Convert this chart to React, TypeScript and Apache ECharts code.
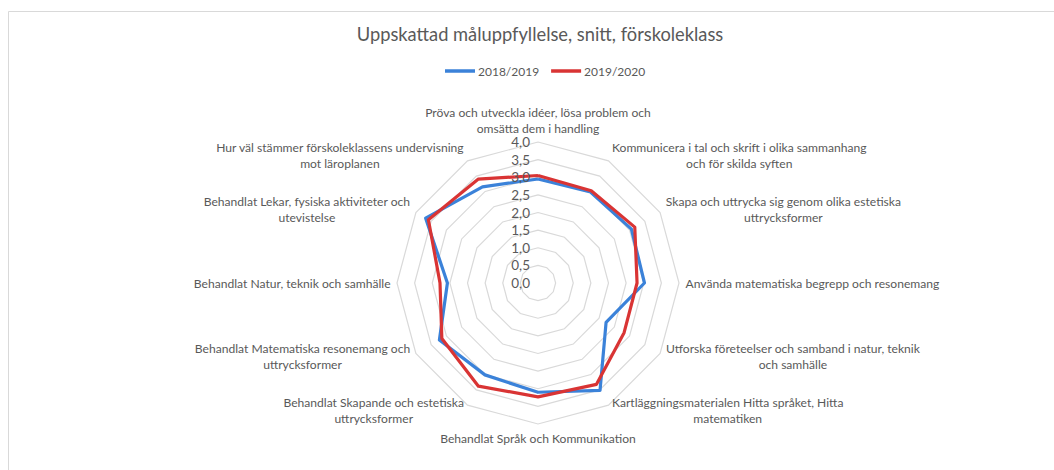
import React, { useEffect, useRef } from "react";
import * as echarts from "echarts";

const TITLE = "Uppskattad måluppfyllelse, snitt, förskoleklass";
const SERIES_NAMES = ["2018/2019", "2019/2020"];
const SERIES_COLORS = ["#3B82D9", "#D93434"];

// indicators in clockwise order starting at the top
const CATEGORIES = [
  "Pröva och utveckla idéer, lösa problem och\nomsätta dem i handling",
  "Kommunicera i tal och skrift i olika sammanhang\noch för skilda syften",
  "Skapa och uttrycka sig genom olika estetiska\nuttrycksformer",
  "Använda matematiska begrepp och resonemang",
  "Utforska företeelser och samband i natur, teknik\noch samhälle",
  "Kartläggningsmaterialen Hitta språket, Hitta\nmatematiken",
  "Behandlat Språk och Kommunikation",
  "Behandlat Skapande och estetiska\nuttrycksformer",
  "Behandlat Matematiska resonemang och\nuttrycksformer",
  "Behandlat Natur, teknik och samhälle",
  "Behandlat Lekar, fysiska aktiviteter och\nutevistelse",
  "Hur väl stämmer förskoleklassens undervisning\nmot läroplanen",
];

const VALUES_2018 = [2.95, 2.98, 3.06, 3.02, 2.23, 3.52, 3.1, 3.01, 3.23, 2.57, 3.68, 3.15];
const VALUES_2019 = [3.05, 3.02, 3.17, 2.81, 2.82, 3.32, 3.23, 3.38, 3.15, 2.78, 3.59, 3.4];

const AXIS_MIN = 0;
const AXIS_MAX = 4;
const AXIS_STEP = 0.5;

const FONT = "Lato";
const LABEL_SIZE = 12.1;
const TEXT_COLOR = "#595959";

// ECharts radar runs counter-clockwise; reorder so the picture runs clockwise
const order = CATEGORIES.map((_, i) => (i === 0 ? 0 : CATEGORIES.length - i));
const reorder = <T,>(arr: T[]) => order.map((i) => arr[i]);

function measure(text: string, size: number): number {
  const c = document.createElement("canvas").getContext("2d");
  if (!c) return text.length * size * 0.5;
  c.font = `${size}px ${FONT}`;
  return Math.max(...text.split("\n").map((l) => c.measureText(l).width)) + 1;
}

export default function App() {
  const ref = useRef<HTMLDivElement>(null);
  useEffect(() => {
    if (!ref.current) return;
    const chart = echarts.init(ref.current, undefined, { renderer: "svg" });
    const rich: Record<string, any> = {};
    CATEGORIES.forEach((c, i) => {
      rich["l" + i] = {
        width: measure(c, LABEL_SIZE),
        align: "center",
        fontSize: LABEL_SIZE,
        fontFamily: FONT,
        color: TEXT_COLOR,
        lineHeight: 16,
      };
    });
    const center = ["538", "283"];
    const radius = 141;
    chart.setOption({
      animation: false,
      backgroundColor: "#ffffff",
      title: {
        text: TITLE,
        left: 535,
        textAlign: "center",
        top: 20,
        textStyle: { fontFamily: FONT, fontSize: 18.3, fontWeight: "normal", color: TEXT_COLOR },
      },
      legend: {
        top: 60,
        left: 440,
        itemWidth: 30,
        itemHeight: 3.5,
        itemGap: 12,
        icon: "rect",
        data: SERIES_NAMES,
        textStyle: { fontFamily: FONT, fontSize: 12, color: TEXT_COLOR, padding: [0, 0, 0, -2] },
      },
      graphic: [
        {
          type: "rect",
          shape: { x: 8.5, y: 11.5, width: 1200, height: 600 },
          style: { fill: "none", stroke: "#d9d9d9", lineWidth: 1 },
          silent: true,
        },
      ],
      radar: {
        center,
        radius,
        startAngle: 90,
        splitNumber: (AXIS_MAX - AXIS_MIN) / AXIS_STEP,
        shape: "polygon",
        nameGap: 6,
        indicator: reorder(CATEGORIES).map((name) => ({ name, min: AXIS_MIN, max: AXIS_MAX })),
        axisName: {
          formatter: (name: string) => {
            const i = CATEGORIES.indexOf(name);
            return name
              .split("\n")
              .map((l) => `{l${i}|${l}}`)
              .join("\n");
          },
          rich,
        },
        axisLine: { show: false },
        axisTick: { show: false },
        axisLabel: { show: false },
        splitArea: { show: false },
        splitLine: { lineStyle: { color: "#d9d9d9", width: 1.2 } },
      },
      polar: { center, radius },
      angleAxis: { show: false, startAngle: 90, min: 0, max: 360 },
      radiusAxis: {
        min: AXIS_MIN,
        max: AXIS_MAX,
        interval: AXIS_STEP,
        axisLine: { show: false },
        axisTick: { show: false },
        splitLine: { show: false },
        axisLabel: {
          color: TEXT_COLOR,
          fontFamily: FONT,
          fontSize: 13.5,
          margin: 8,
          formatter: (v: number) => v.toFixed(1).replace(".", ","),
        },
        z: 5,
      },
      series: [
        {
          type: "radar",
          symbol: "none",
          data: [
            {
              name: SERIES_NAMES[0],
              value: reorder(VALUES_2018),
              lineStyle: { color: SERIES_COLORS[0], width: 3.2 },
              itemStyle: { color: SERIES_COLORS[0] },
            },
            {
              name: SERIES_NAMES[1],
              value: reorder(VALUES_2019),
              lineStyle: { color: SERIES_COLORS[1], width: 3.2 },
              itemStyle: { color: SERIES_COLORS[1] },
            },
          ],
        },
      ],
    });
    return () => chart.dispose();
  }, []);
  return (
    <div
      ref={ref}
      style={{ position: "fixed", left: 0, top: 0, width: 1054, height: 470 }}
    />
  );
}
